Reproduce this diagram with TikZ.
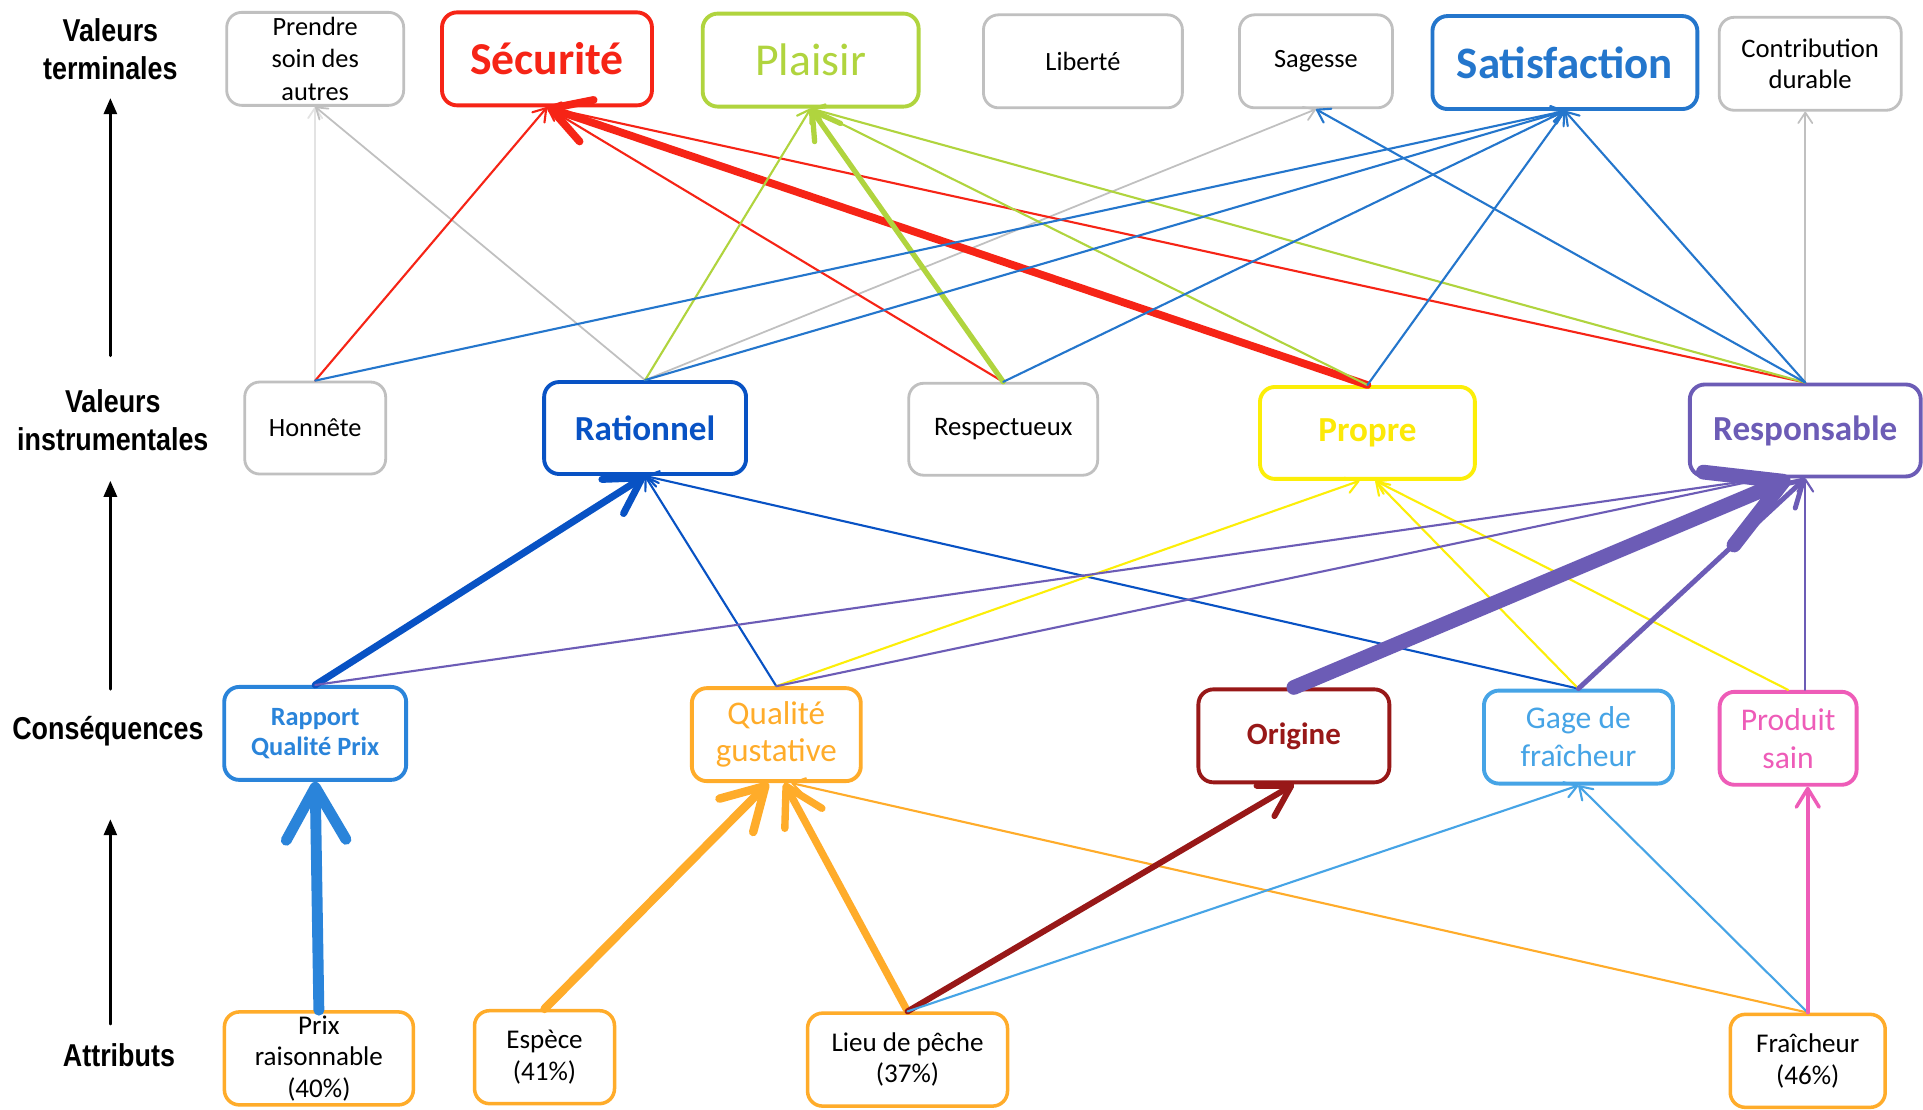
\documentclass[tikz,border=0pt]{standalone}
\usepackage{fontspec}
\setmainfont{Carlito}
\newfontfamily\sidefont{Liberation Sans}[FakeStretch=0.85]
\usepackage{tikz}
\usetikzlibrary{arrows,arrows.meta,positioning}
\definecolor{boxgray}{RGB}{192,192,192}
\definecolor{secred}{RGB}{246,36,22}
\definecolor{plagreen}{RGB}{176,212,62}
\definecolor{satblue}{RGB}{36,118,204}
\definecolor{ratblue}{RGB}{8,82,196}
\definecolor{proyel}{RGB}{252,238,8}
\definecolor{respurple}{RGB}{108,92,182}
\definecolor{rapblue}{RGB}{42,132,218}
\definecolor{qualorange}{RGB}{255,172,42}
\definecolor{origred}{RGB}{152,24,24}
\definecolor{gageblue}{RGB}{70,164,230}
\definecolor{prodpink}{RGB}{238,92,184}

\begin{document}
\begin{tikzpicture}[line cap=round,line join=round,>={Triangle[length=1.6mm,width=1.3mm]},x=0.012264cm,y=-0.012264cm,
  box/.style={draw,rounded corners=1.5mm,fill=white,align=center,inner sep=0pt,line width=1.1pt},
  gbox/.style={box,draw=boxgray,line width=0.8pt,font=\fontsize{7.5}{9.2}\selectfont},
  abox/.style={box,draw=qualorange,line width=1pt,minimum height=9.3mm,font=\fontsize{7.7}{8.9}\selectfont},
  side/.style={align=center,font=\sidefont\bfseries\fontsize{9}{10.8}\selectfont},
  lk/.style={-{Straight Barb[length=0.7pt 4.6,width=1.5pt 5,round]},line width=0.6pt}]
\useasboundingbox[fill=white] (0,0) rectangle (1568,905);
\node[side] (vt) at (90,40) {Valeurs\\terminales};
\node[side] (vi) at (92,343) {Valeurs\\instrumentales};
\node[side] (csq) at (88,596) {Conséquences};
\node[side] (att) at (97,860) {Attributs};
\coordinate (s1) at (90,290); \coordinate (e1) at (90,80);
\coordinate (s2) at (90,562); \coordinate (e2) at (90,392);
\coordinate (s3) at (90,835); \coordinate (e3) at (90,668);
\foreach \s/\e in {s1/e1,s2/e2,s3/e3}
  \draw[->,line width=0.8pt] (\s) -- (\e);
\node[gbox,minimum width=17.7mm,minimum height=9.3mm] (pre) at (257,48) {Prendre\\soin des\\autres};
\node[box,draw=secred,text=secred,minimum width=21mm,minimum height=9.3mm,font=\bfseries\fontsize{13}{15}\selectfont] (sec) at (446,48) {Sécurité};
\node[box,draw=plagreen,text=plagreen,minimum width=21.6mm,minimum height=9.3mm,font=\fontsize{13}{15}\selectfont] (pla) at (661,49) {Plaisir};
\node[gbox,minimum width=19.9mm,minimum height=9.3mm] (lib) at (883,50) {Liberté};
\node[gbox,minimum width=15.3mm,minimum height=9.3mm] (sag) at (1073,50) {Sagesse};
\node[box,draw=satblue,text=satblue,minimum width=26.5mm,minimum height=9.3mm,font=\bfseries\fontsize{12.8}{15}\selectfont] (sat) at (1276,51) {Satisfaction};
\node[gbox,minimum width=18.2mm,minimum height=9.3mm,font=\fontsize{7.6}{8.7}\selectfont] (con) at (1476,52) {Contribution\\durable};
\node[gbox,minimum width=14.1mm,minimum height=9.2mm] (hon) at (257,349) {Honnête};
\node[box,draw=ratblue,text=ratblue,minimum width=20.2mm,minimum height=9.2mm,font=\bfseries\fontsize{10}{12}\selectfont] (rat) at (526,349) {Rationnel};
\node[gbox,minimum width=18.9mm,minimum height=9.2mm,font=\fontsize{7.6}{9}\selectfont] (rsp) at (818,350) {Respectueux};
\node[box,draw=proyel,text=proyel!95!orange,minimum width=21.5mm,minimum height=9.2mm,font=\bfseries\fontsize{10}{12}\selectfont] (pro) at (1115,353) {Propre};
\node[box,draw=respurple,text=respurple,minimum width=23.1mm,minimum height=9.2mm,font=\bfseries\fontsize{10}{12}\selectfont] (res) at (1472,351) {Responsable};
\node[box,draw=rapblue,text=rapblue,minimum width=18.2mm,minimum height=9.3mm,font=\bfseries\fontsize{7.5}{8.7}\selectfont] (rqp) at (257,598) {Rapport\\Qualité Prix};
\node[box,draw=qualorange,text=qualorange,minimum width=16.9mm,minimum height=9.3mm,font=\fontsize{9.4}{10.5}\selectfont] (qg) at (633,599) {Qualité\\gustative};
\node[box,draw=origred,text=origred,minimum width=19.1mm,minimum height=9.3mm,font=\bfseries\fontsize{8.8}{10}\selectfont] (ori) at (1055,600) {Origine};
\node[box,draw=gageblue,text=gageblue,minimum width=18.9mm,minimum height=9.3mm,font=\fontsize{9}{10.8}\selectfont] (gdf) at (1287,601) {Gage de\\fraîcheur};
\node[box,draw=prodpink,text=prodpink,minimum width=13.7mm,minimum height=9.3mm,font=\fontsize{9}{10.8}\selectfont] (ps) at (1458,602) {Produit\\sain};
\node[abox,minimum width=18.9mm] (pr) at (260,863) {Prix\\raisonnable\\(40\%)};
\node[abox,minimum width=14mm] (esp) at (444,862) {Espèce\\(41\%)};
\node[abox,minimum width=20mm] (lie) at (740,864) {Lieu de pêche\\(37\%)};
\node[abox,minimum width=15.5mm] (fra) at (1474,865) {Fraîcheur\\(46\%)};
% valeurs instrumentales -> valeurs terminales
\draw[lk,draw=boxgray!45,line width=0.5pt] (hon.north) -- (pre.south);
\foreach \a/\b in {rat/pre,rat/sag}
  \draw[lk,draw=boxgray,line width=0.5pt] (\a.north) -- (\b.south);
\draw[lk,draw=boxgray,line width=0.5pt] (res.north) -- (res.north |- con.south);
\foreach \a in {hon,rsp,res}
  \draw[lk,draw=secred] (\a.north) -- (sec.south);
\draw[lk,draw=secred,line width=2.2pt] (pro.north) -- (sec.south);
\foreach \a in {rat,pro,res}
  \draw[lk,draw=plagreen] (\a.north) -- (pla.south);
\draw[lk,draw=plagreen,line width=1.5pt] (rsp.north) -- (pla.south);
\foreach \a in {hon,rat,rsp,pro,res}
  \draw[lk,draw=satblue] (\a.north) -- (sat.south);
\draw[lk,draw=satblue] (res.north) -- (sag.south);
% consequences -> valeurs instrumentales
\draw[lk,draw=ratblue,line width=2pt] (rqp.north) -- (rat.south);
\foreach \a in {qg,gdf}
  \draw[lk,draw=ratblue] (\a.north) -- (rat.south);
\draw[lk,draw=proyel] (qg.north) -- ([xshift=-0.8mm]pro.south);
\foreach \a in {gdf,ps}
  \draw[lk,draw=proyel] (\a.north) -- ([xshift=0.8mm]pro.south);
\foreach \a in {rqp,qg}
  \draw[lk,draw=respurple] (\a.north) -- ([xshift=-4mm]res.south);
\draw[lk,draw=respurple,line width=4.2pt] (ori.north) -- ([xshift=-1.5mm]res.south);
\draw[lk,draw=respurple,line width=1.4pt] (gdf.north) -- (res.south);
\draw[lk,draw=respurple] (ps.north -| res.south) -- (res.south);
% attributs -> consequences
\draw[lk,draw=rapblue,line width=3.1pt] (pr.north) -- (rqp.south);
\draw[lk,draw=qualorange,line width=2.4pt] (esp.north) -- ([xshift=-0.8mm]qg.south);
\draw[lk,draw=qualorange,line width=2.1pt] (lie.north) -- ([xshift=0.8mm]qg.south);
\draw[lk,draw=qualorange] (fra.north) -- ([xshift=1.5mm]qg.south);
\draw[lk,draw=origred,line width=1.7pt] (lie.north) -- (ori.south);
\foreach \a in {lie,fra}
  \draw[lk,draw=gageblue] (\a.north) -- (gdf.south);
\draw[lk,draw=prodpink,line width=1pt] (fra.north) -- (fra.north |- ps.south);
\end{tikzpicture}
\end{document}
